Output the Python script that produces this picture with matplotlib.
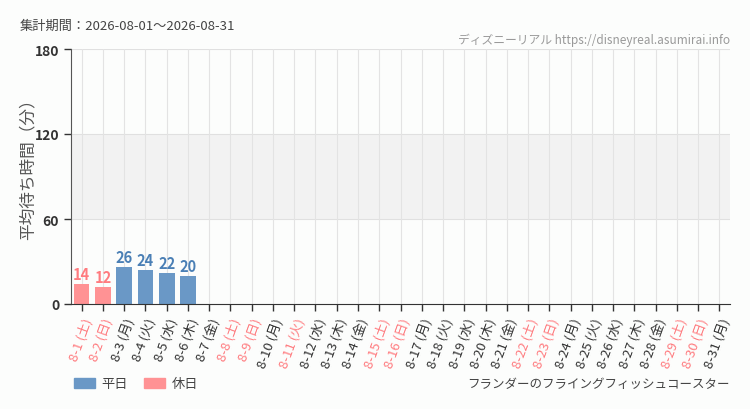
import matplotlib
matplotlib.use('Agg')
import matplotlib.pyplot as plt
from matplotlib.patches import Patch

plt.rcParams['font.family'] = ['Noto Sans CJK JP', 'DejaVu Sans']

days = list(range(1, 32))
weekdays = ['土', '日', '月', '火', '水', '木', '金', '土', '日', '月', '火', '水', '木', '金',
            '土', '日', '月', '火', '水', '木', '金', '土', '日', '月', '火', '水', '木', '金',
            '土', '日', '月']
holidays = [1, 2, 8, 9, 11, 15, 16, 22, 23, 29, 30]
wait_days = [1, 2, 3, 4, 5, 6]
wait_values = [14, 12, 26, 24, 22, 20]

BLUE = '#6a98c6'
PINK = '#ff9294'
BLUE_TXT = '#4a7fb5'
PINK_TXT = '#ff7b7f'
BG = '#fcfdfc'


def main():
    fig = plt.figure(figsize=(7.5, 4.1), dpi=100, facecolor=BG)
    ax = fig.add_axes([71/750, 1-305/410, 659/750, 255/410])
    ax.set_facecolor(BG)

    ax.axhspan(60, 120, color='#f2f2f2', zorder=0, lw=0)
    for y in (60, 120, 180):
        ax.axhline(y, color='#e0e0e0', lw=0.8, zorder=1)
    for i in range(len(days)):
        ax.axvline(i, color='#e3e3e3', lw=0.8, zorder=1)

    for d, v in zip(wait_days, wait_values):
        hol = d in holidays
        ax.bar(d-1, v, width=0.74, color=PINK if hol else BLUE, zorder=2)
        ax.text(d-1, v+1.5, str(v), ha='center', va='bottom', fontsize=10.5,
                color=PINK_TXT if hol else BLUE_TXT, fontweight='bold', zorder=3)

    ax.set_xlim(-0.5, len(days)-0.5)
    ax.set_ylim(0, 180)
    ax.set_yticks([0, 60, 120, 180])
    ax.tick_params(axis='y', labelsize=10, colors='#333333', length=5, width=1)
    ax.tick_params(axis='x', length=5, width=1, color='#333333')
    ax.set_xticks(range(len(days)))
    labels = [f'8-{d} ({w})' for d, w in zip(days, weekdays)]
    ax.set_xticklabels(labels, rotation=70, ha='right', rotation_mode='anchor', fontsize=9.5)
    for lbl, d in zip(ax.get_xticklabels(), days):
        lbl.set_color(PINK_TXT if d in holidays else '#333333')
    for lbl in ax.get_yticklabels():
        lbl.set_fontweight('bold')

    for s in ('top', 'right'):
        ax.spines[s].set_visible(False)
    ax.spines['left'].set_color('#555555')
    ax.spines['bottom'].set_color('#333333')
    ax.set_ylabel('平均待ち時間（分）', fontsize=12, color='#555555')
    ax.yaxis.set_label_coords(-0.052, 0.55)

    fig.text(20/750, 1-26/410, '集計期間：2026-08-01～2026-08-31', fontsize=9.5,
             color='#444444', va='center')
    fig.text(730/750, 1-40/410, 'ディズニーリアル https://disneyreal.asumirai.info', fontsize=8.5,
             color='#999999', ha='right', va='center')
    fig.text(730/750, 1-385/410, 'フランダーのフライングフィッシュコースター', fontsize=9,
             color='#444444', ha='right', va='center')

    handles = [Patch(color=BLUE, label='平日'), Patch(color=PINK, label='休日')]
    fig.legend(handles=handles, loc='center left', bbox_to_anchor=(62/750, 1-385/410),
               ncol=2, frameon=False, fontsize=9.5, handlelength=1.6, handleheight=0.8,
               columnspacing=1.2, handletextpad=0.5, labelcolor='#444444')

    fig.savefig('out.png', dpi=100, facecolor=BG)


if __name__ == '__main__':
    main()
